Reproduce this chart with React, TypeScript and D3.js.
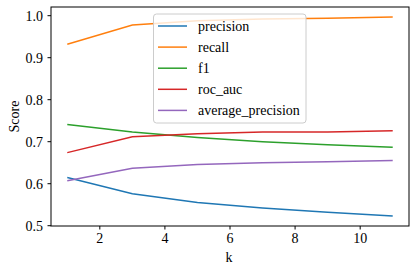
import React from "react";
import * as d3 from "d3";

const ks = [1, 3, 5, 7, 9, 11];
const precision = [0.615, 0.576, 0.555, 0.542, 0.532, 0.523];
const recall = [0.932, 0.978, 0.988, 0.992, 0.994, 0.997];
const f1 = [0.741, 0.723, 0.71, 0.7, 0.693, 0.687];
const rocAuc = [0.674, 0.712, 0.719, 0.723, 0.723, 0.726];
const averagePrecision = [0.607, 0.637, 0.646, 0.65, 0.652, 0.655];
const seriesNames = ["precision", "recall", "f1", "roc_auc", "average_precision"];
const colors = ["#1f77b4", "#ff7f0e", "#2ca02c", "#d62728", "#9467bd"];
const xTicks = [2, 4, 6, 8, 10];
const yTicks = [0.5, 0.6, 0.7, 0.8, 0.9, 1.0];

export default function App() {
  const W = 416, H = 272;
  const L = 51, R = 409, T = 7, B = 226;
  const series = [precision, recall, f1, rocAuc, averagePrecision];
  const all = series.flat();
  const [mn, mx] = d3.extent(all) as [number, number];
  const pad = (mx - mn) * 0.05;
  const x = d3.scaleLinear().domain([0.5, 11.5]).range([L, R]);
  const y = d3.scaleLinear().domain([mn - pad, mx + pad]).range([B, T]);
  const line = d3
    .line<number>()
    .x((_, i) => x(ks[i]))
    .y((d) => y(d));
  const ts: React.CSSProperties = { fontFamily: '"Liberation Serif", "DejaVu Serif", serif', fontSize: 14 };
  const lx = 153.5, ly = 14, lw = 152.5, lh = 109;
  return (
    <svg width={W} height={H} style={{ position: "absolute", left: 0, top: 0, background: "#fff" }}>
      <rect x={0} y={0} width={W} height={H} fill="#fff" />
      {series.map((s, i) => (
        <path key={i} d={line(s) || ""} fill="none" stroke={colors[i]} strokeWidth={1.5} />
      ))}
      <rect x={lx} y={ly} width={lw} height={lh} rx={3} fill="#fff" fillOpacity={0.8} stroke="#cccccc" strokeWidth={1} />
      {seriesNames.map((n, i) => {
        const yy = 26 + i * 21.1;
        return (
          <g key={n}>
            <line x1={158} x2={187} y1={yy} y2={yy} stroke={colors[i]} strokeWidth={1.5} />
            <text x={198} y={yy + 5} style={ts} fill="#000">
              {n}
            </text>
          </g>
        );
      })}
      <rect x={L} y={T} width={R - L} height={B - T} fill="none" stroke="#000" strokeWidth={1} />
      {xTicks.map((t) => (
        <g key={t}>
          <line x1={x(t)} x2={x(t)} y1={B} y2={B + 3.5} stroke="#000" strokeWidth={1} />
          <text x={x(t)} y={243} style={ts} textAnchor="middle" fill="#000">
            {t}
          </text>
        </g>
      ))}
      {yTicks.map((t) => (
        <g key={t}>
          <line x1={L - 3.5} x2={L} y1={y(t)} y2={y(t)} stroke="#000" strokeWidth={1} />
          <text x={43} y={y(t) + 5} style={ts} textAnchor="end" fill="#000">
            {t.toFixed(1)}
          </text>
        </g>
      ))}
      <text x={229} y={262} style={ts} textAnchor="middle" fill="#000">
        k
      </text>
      <text transform={`translate(19, ${(T + B) / 2}) rotate(-90)`} style={ts} textAnchor="middle" fill="#000">
        Score
      </text>
    </svg>
  );
}
